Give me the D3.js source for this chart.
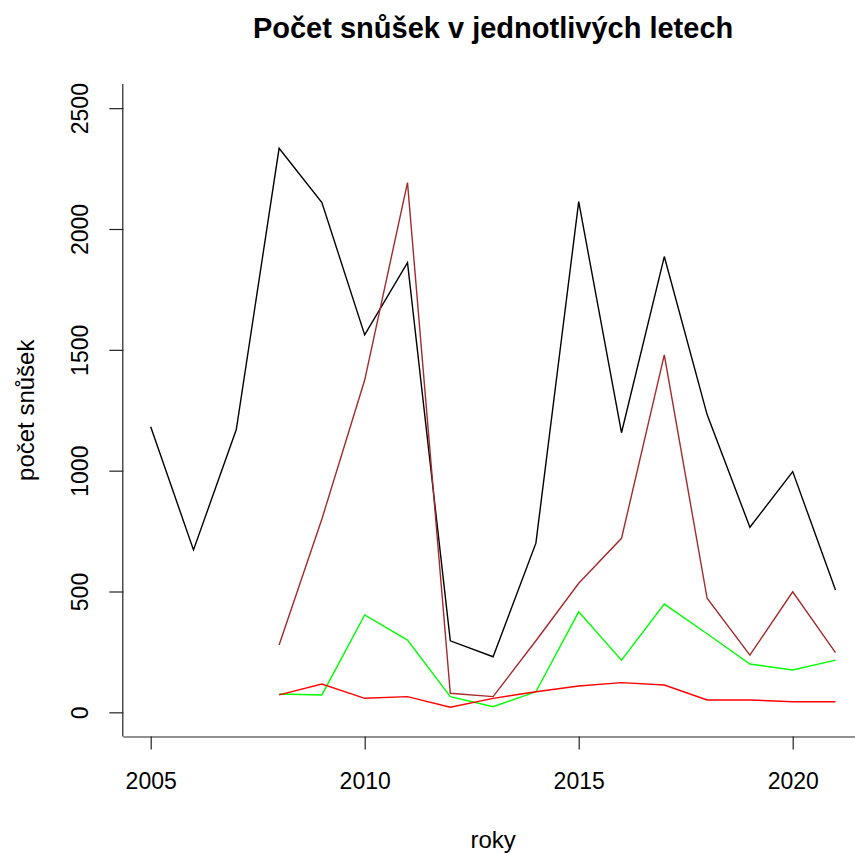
<!DOCTYPE html>
<html>
<head>
<meta charset="utf-8">
<script src="https://cdn.jsdelivr.net/npm/d3@7"></script>
<style>
  html, body { margin: 0; padding: 0; background: #fff; }
  text { font-family: "Liberation Sans", Arial, sans-serif; fill: #000; }
</style>
</head>
<body>
<svg id="chart" width="855" height="853"></svg>
<script>
const years = [2005,2006,2007,2008,2009,2010,2011,2012,2013,2014,2015,2016,2017,2018,2019,2020,2021];
const totalNests = [1182,672,1170,2334,2109,1562,1861,296,230,700,2113,1157,1886,1232,766,996,506];
const brownNests = [null,null,null,279,800,1375,2192,79,65,296,534,720,1479,472,237,499,247];
const greenNests = [null,null,null,76,72,403,299,65,23,85,416,216,448,325,200,175,216];
const redNests   = [null,null,null,72,117,58,65,21,58,85,109,123,113,51,51,44,44];
const xTicks = [2005,2010,2015,2020];
const yTicks = [0,500,1000,1500,2000,2500];
const titleText = "Počet snůšek v jednotlivých letech";
const xLabel = "roky";
const yLabel = "počet snůšek";

const series = [
  {values: totalNests, color: "#000000"},
  {values: brownNests, color: "#A52A2A"},
  {values: greenNests, color: "#00FF00"},
  {values: redNests,   color: "#FF0000"}
];

const svg = d3.select("#chart");
const x = d3.scaleLinear().domain([2004.36, 2021.64]).range([123.3, 862.9]);
const y = d3.scaleLinear().domain([-100, 2600]).range([736.5, 84]);

// axes
const xAxis = svg.append("g").attr("transform", `translate(0,${y(-100)})`)
  .call(d3.axisBottom(x).tickValues(xTicks).tickFormat(d3.format("d")).tickSize(13).tickSizeOuter(0));
xAxis.select(".domain").attr("d", `M${x(2004.36)},0.5H${x(2021.64)}`);
const yAxis = svg.append("g").attr("transform", `translate(${x(2004.36)},0)`)
  .call(d3.axisLeft(y).tickValues(yTicks).tickFormat(d3.format("d")).tickSize(14).tickSizeOuter(0));
yAxis.select(".domain").attr("d", `M-0.5,${y(2600)}V${y(-100)}`);

svg.selectAll(".domain").attr("stroke", "#222").attr("stroke-width", 1.2);
svg.selectAll(".tick line").attr("stroke", "#222").attr("stroke-width", 1.2);

xAxis.selectAll(".tick text")
  .attr("y", 0).attr("dy", null)
  .attr("transform", "translate(0,52)")
  .style("font-size", "23px")
  .attr("font-family", null);
yAxis.selectAll(".tick text")
  .attr("x", null).attr("dy", null)
  .attr("text-anchor", "middle")
  .attr("transform", "translate(-35,0) rotate(-90)")
  .style("font-size", "23px")
  .attr("font-family", null);

// lines
const line = d3.line()
  .defined(d => d.v !== null)
  .x(d => x(d.yr))
  .y(d => y(d.v));

series.forEach(s => {
  const data = years.map((yr, i) => ({yr, v: s.values[i]}));
  svg.append("path")
    .datum(data)
    .attr("fill", "none")
    .attr("stroke", s.color)
    .attr("stroke-width", 1.4)
    .attr("stroke-linejoin", "miter")
    .attr("d", line);
});

// title & labels
svg.append("text")
  .attr("x", (x(2004.36) + x(2021.64)) / 2)
  .attr("y", 38)
  .attr("text-anchor", "middle")
  .style("font-size", "29px")
  .style("font-weight", "bold")
  .text(titleText);

svg.append("text")
  .attr("x", (x(2004.36) + x(2021.64)) / 2)
  .attr("y", 848)
  .attr("text-anchor", "middle")
  .style("font-size", "24px")
  .text(xLabel);

svg.append("text")
  .attr("transform", `translate(34,${(y(-100)+y(2600))/2}) rotate(-90)`)
  .attr("text-anchor", "middle")
  .style("font-size", "24px")
  .text(yLabel);
</script>
</body>
</html>
